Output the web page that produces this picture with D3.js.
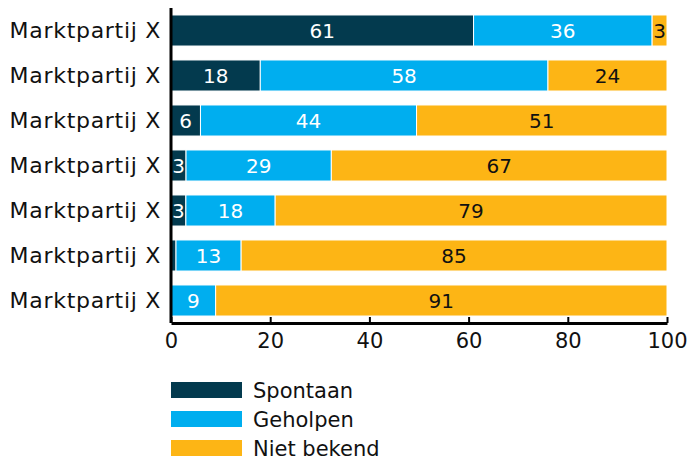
<!DOCTYPE html>
<html>
<head>
<meta charset="utf-8">
<script src="https://cdn.jsdelivr.net/npm/d3@7"></script>
<style>
  body { margin: 0; background: #fff; }
  svg text { font-family: "DejaVu Sans", sans-serif; }
</style>
</head>
<body>
<div id="chart"></div>
<script>
// data (percentages, rounded)
var categories = ["Marktpartij X", "Marktpartij X", "Marktpartij X", "Marktpartij X",
                  "Marktpartij X", "Marktpartij X", "Marktpartij X"];
var seriesNames = ["Spontaan", "Geholpen", "Niet bekend"];
var spontaan = [61, 18, 6, 3, 3, 1, 0];
var geholpen = [36, 58, 44, 29, 18, 13, 9];
var nietBekend = [3, 24, 51, 67, 79, 85, 91];
var xTicks = [0, 20, 40, 60, 80, 100];
var colors = ["#033a4e", "#00aeef", "#fdb515"];
var labelColors = ["#fff", "#fff", "#111"];

var width = 689, height = 461;
var svg = d3.select("#chart").append("svg")
  .attr("width", width)
  .attr("height", height);

var rows = categories.map(function(c, i) {
  return { idx: i, s0: spontaan[i], s1: geholpen[i], s2: nietBekend[i] };
});

// 100% stacked: each row fills the full width
var stack = d3.stack().keys(["s0", "s1", "s2"]).offset(d3.stackOffsetExpand);
var layers = stack(rows);

var x = d3.scaleLinear().domain([0, 1]).range([171, 667]);
var y = d3.scaleBand().domain(d3.range(categories.length))
  .range([8, 323]).paddingInner(0.31).paddingOuter(0.155);

layers.forEach(function(layer, k) {
  var g = svg.append("g");
  g.selectAll("rect").data(layer).enter().append("rect")
    .attr("x", function(d) { return x(d[0]); })
    .attr("y", function(d) { return y(d.data.idx); })
    .attr("width", function(d) { return Math.max(0, x(d[1]) - x(d[0])); })
    .attr("height", y.bandwidth())
    .attr("fill", colors[k])
    .attr("stroke", "#fff")
    .attr("stroke-width", function(d) { return d[1] > d[0] ? 1 : 0; });
  g.selectAll("text").data(layer.filter(function(d) { return d.data[layer.key] >= 2; }))
    .enter().append("text")
    .attr("x", function(d) { return (x(d[0]) + x(d[1])) / 2; })
    .attr("y", function(d) { return y(d.data.idx) + y.bandwidth() / 2; })
    .attr("dy", "0.36em")
    .attr("text-anchor", "middle")
    .attr("font-size", 20)
    .attr("fill", labelColors[k])
    .text(function(d) { return d.data[layer.key]; });
});

// y axis
var yAxis = svg.append("g")
  .attr("transform", "translate(171,0)")
  .call(d3.axisLeft(y).tickSize(0).tickPadding(10).tickFormat(function(i) { return categories[i]; }));
yAxis.select(".domain").attr("stroke", "#000").attr("stroke-width", 3)
  .attr("d", "M0,8V323");
yAxis.selectAll("text").attr("font-size", 22).attr("fill", "#111")
  .style("letter-spacing", "0.7px")
  .style("font-family", "DejaVu Sans, sans-serif");

// x axis
var xAxis = svg.append("g")
  .attr("transform", "translate(0,323)")
  .call(d3.axisBottom(x).tickValues(xTicks.map(function(t) { return t / 100; }))
    .tickFormat(function(d) { return Math.round(d * 100); })
    .tickSize(-6).tickPadding(10).tickSizeOuter(0));
xAxis.select(".domain").attr("stroke", "#000").attr("stroke-width", 3);
xAxis.selectAll(".tick line").attr("stroke", "#000").attr("stroke-width", 2);
xAxis.selectAll("text").attr("font-size", 21).attr("fill", "#111")
  .style("font-family", "DejaVu Sans, sans-serif");

// legend
var legend = svg.append("g").attr("transform", "translate(171,382)");
seriesNames.forEach(function(name, k) {
  var g = legend.append("g").attr("transform", "translate(0," + (k * 29) + ")");
  g.append("rect").attr("width", 71).attr("height", 16).attr("fill", colors[k]);
  g.append("text").attr("x", 82).attr("y", 8).attr("dy", "0.36em")
    .attr("font-size", 21).attr("fill", "#111").text(name);
});
</script>
</body>
</html>
